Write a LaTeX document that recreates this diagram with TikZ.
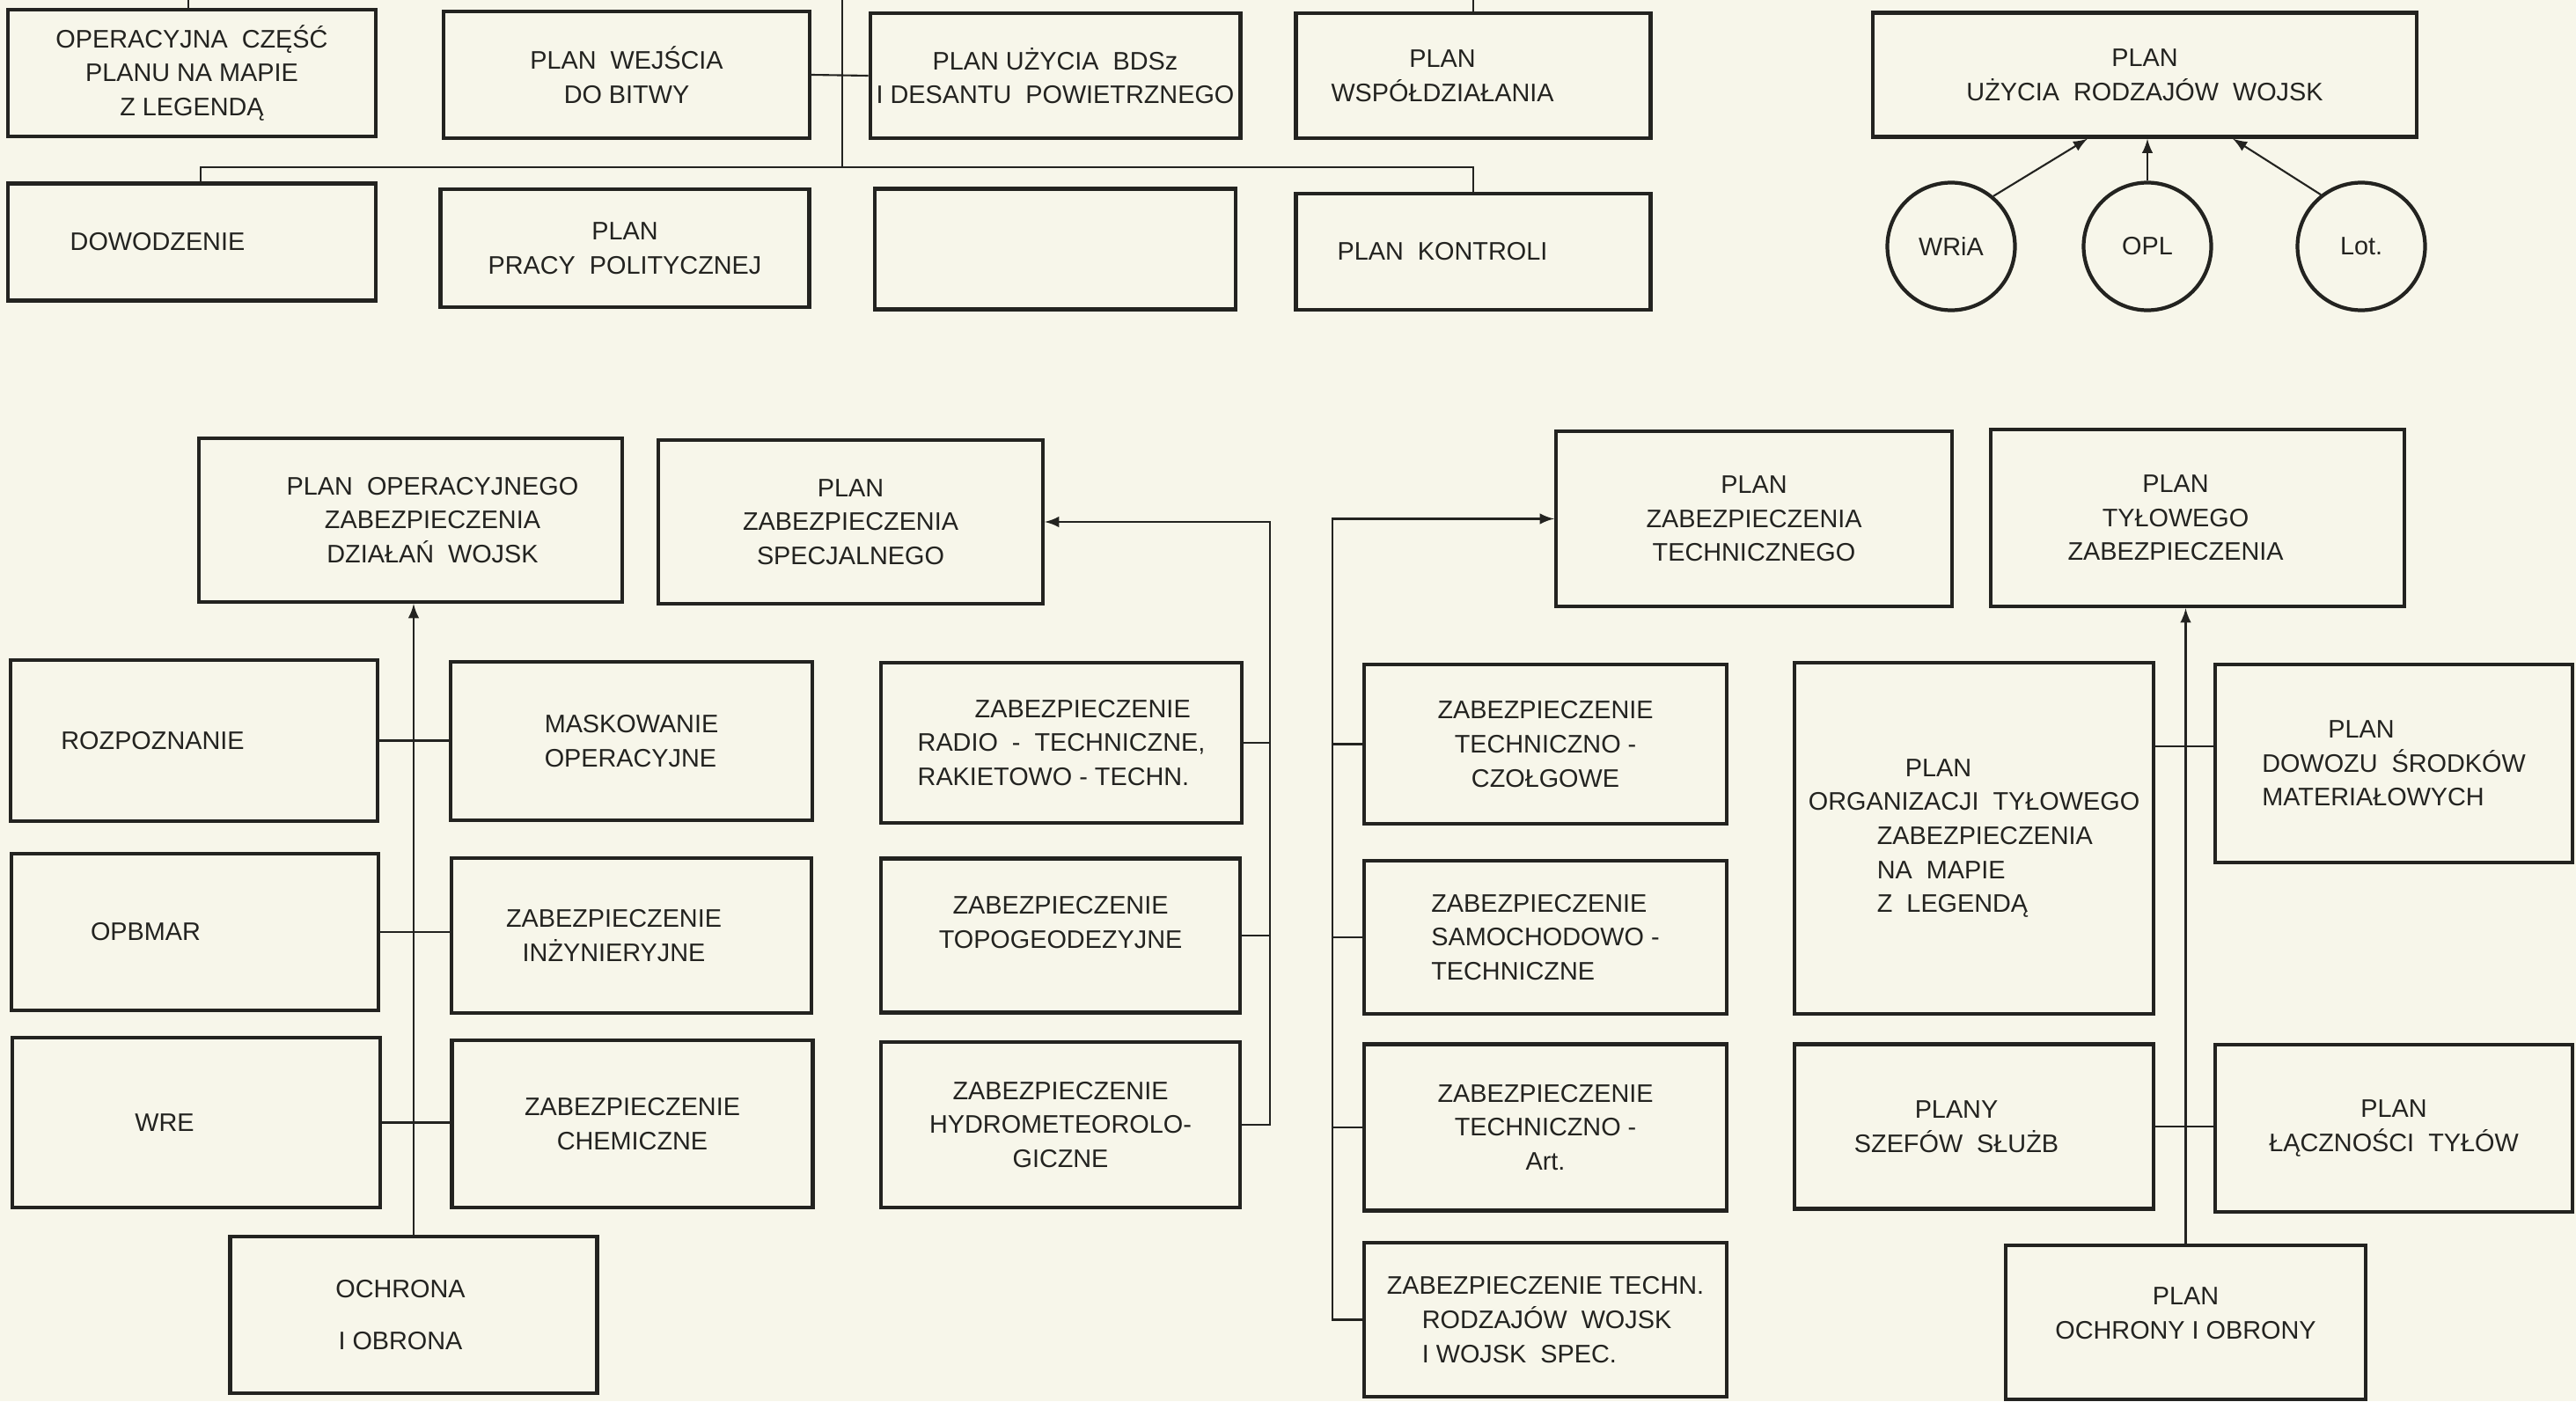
\documentclass[tikz,border=0pt]{standalone}
\usepackage{fontspec}
\setmainfont{Liberation Sans}
\usepackage{tikz}
\usetikzlibrary{arrows}

\definecolor{paper}{RGB}{247,246,234}
\definecolor{ink}{RGB}{35,35,32}

\tikzset{
  box/.style={draw=ink, line width=1.2pt, align=center, text=ink, inner sep=2pt},
  wh/.style 2 args={minimum width=#1cm, minimum height=#2cm},
  kolo/.style={circle, draw=ink, line width=1.2pt, text=ink, minimum size=1.45cm, inner sep=0pt},
  conn/.style={color=ink, line width=0.6pt},
  arr/.style={conn, -latex},
  every label/.style={align=center, text=ink}
}

\begin{document}
\begin{tikzpicture}[font=\fontsize{8.2}{11}\selectfont]
  \useasboundingbox (0,0) rectangle (29.27,15.92);
  \fill[paper] (0,0) rectangle (29.27,15.92);

  \node[box, wh={4.18}{1.44}] (opcz) at (2.18,15.09) {OPERACYJNA~ CZĘŚĆ\\PLANU NA MAPIE\\Z LEGENDĄ};
  \node[box, wh={4.16}{1.44}] (wejs) at (7.12,15.07) {PLAN~ WEJŚCIA\\DO BITWY};
  \node[box, wh={4.10}{1.42}] (bdsz) at (11.99,15.06) {PLAN UŻYCIA~ BDSz\\I DESANTU~ POWIETRZNEGO};
  \node[box, wh={4.03}{1.42}, label={[xshift=-0.35cm]center:PLAN\\WSPÓŁDZIAŁANIA}] (wspol) at (16.74,15.06) {};
  \node[box, wh={4.18}{1.33}, label={[xshift=-0.39cm]center:DOWODZENIE}] (dowodz) at (2.18,13.17) {};
  \node[box, wh={4.19}{1.34}] (polit) at (7.10,13.10) {PLAN\\PRACY~ POLITYCZNEJ};
  \node[box, wh={4.10}{1.37}] (pusty) at (11.99,13.09) {};
  \node[box, wh={4.03}{1.32}, label={[xshift=-0.35cm]center:PLAN~ KONTROLI}] (kontr) at (16.74,13.06) {};

  \node[box, wh={6.18}{1.41}] (rodz) at (24.37,15.07) {PLAN\\UŻYCIA~ RODZAJÓW~ WOJSK};
  \node[kolo] (wria) at (22.17,13.12) {WRiA};
  \node[kolo] (opl) at (24.40,13.12) {OPL};
  \node[kolo] (lot) at (26.83,13.12) {Lot.};

  \node[box, wh={4.81}{1.86}, label={[xshift=0.25cm]center:PLAN~ OPERACYJNEGO\\ZABEZPIECZENIA\\DZIAŁAŃ~ WOJSK}] (opzab) at (4.665,10.01) {};
  \node[box, wh={4.37}{1.86}] (spec) at (9.665,9.99) {PLAN\\ZABEZPIECZENIA\\SPECJALNEGO};
  \node[box, wh={4.17}{1.83}, label={[xshift=-0.47cm]center:ROZPOZNANIE}] (rozp) at (2.205,7.505) {};
  \node[box, wh={4.11}{1.80}, align=left] (mask) at (7.175,7.50) {MASKOWANIE\\OPERACYJNE};
  \node[box, wh={4.17}{1.78}, label={[xshift=-0.56cm]center:OPBMAR}] (opbmar) at (2.215,5.33) {};
  \node[box, wh={4.09}{1.76}, label={[xshift=-0.2cm]center:ZABEZPIECZENIE\\INŻYNIERYJNE}] (inz) at (7.175,5.29) {};
  \node[box, wh={4.18}{1.93}, label={[xshift=-0.36cm]center:WRE}] (wre) at (2.23,3.165) {};
  \node[box, wh={4.10}{1.90}] (chem) at (7.185,3.15) {ZABEZPIECZENIE\\CHEMICZNE};
  \node[box, wh={4.17}{1.78}, label={[xshift=-0.15cm]center:OCHRONA\\[0.2cm]I OBRONA}] (ochr) at (4.70,0.98) {};

  \node[box, wh={4.10}{1.82}, align=left] (radio) at (12.06,7.48) {\hspace*{0.65cm}ZABEZPIECZENIE\\RADIO~ -~ TECHNICZNE,\\RAKIETOWO - TECHN.};
  \node[box, wh={4.08}{1.75}, label={[yshift=0.15cm]center:ZABEZPIECZENIE\\TOPOGEODEZYJNE}] (topo) at (12.05,5.29) {};
  \node[box, wh={4.08}{1.88}] (hydro) at (12.05,3.14) {ZABEZPIECZENIE\\HYDROMETEOROLO-\\GICZNE};

  \node[box, wh={4.50}{1.99}] (tech) at (19.93,10.025) {PLAN\\ZABEZPIECZENIA\\TECHNICZNEGO};
  \node[box, wh={4.12}{1.81}] (czolg) at (17.56,7.465) {ZABEZPIECZENIE\\TECHNICZNO -\\CZOŁGOWE};
  \node[box, wh={4.12}{1.74}, align=left] (samoch) at (17.56,5.27) {ZABEZPIECZENIE\\SAMOCHODOWO -\\TECHNICZNE};
  \node[box, wh={4.12}{1.89}] (art) at (17.56,3.11) {ZABEZPIECZENIE\\TECHNICZNO -\\Art.};
  \node[box, wh={4.12}{1.75}, align=left] (rodzspec) at (17.56,0.925) {ZABEZPIECZENIE TECHN.\\\hspace*{0.4cm}RODZAJÓW~ WOJSK\\\hspace*{0.4cm}I WOJSK~ SPEC.};

  \node[box, wh={4.70}{2.01}, label={[xshift=-0.25cm]center:PLAN\\TYŁOWEGO\\ZABEZPIECZENIA}] (tyl) at (24.97,10.035) {};
  \node[box, wh={4.08}{3.99}, align=left] (organ) at (22.43,6.395) {\hspace*{1.1cm}PLAN\\ORGANIZACJI~ TYŁOWEGO\\\hspace*{0.78cm}ZABEZPIECZENIA\\\hspace*{0.78cm}NA~ MAPIE\\\hspace*{0.78cm}Z~ LEGENDĄ};
  \node[box, wh={4.06}{2.25}, align=left] (dowoz) at (27.20,7.245) {\hspace*{0.75cm}PLAN\\DOWOZU~ ŚRODKÓW\\MATERIAŁOWYCH};
  \node[box, wh={4.08}{1.87}, label={[xshift=-0.2cm]center:PLANY\\SZEFÓW~ SŁUŻB}] (szef) at (22.43,3.12) {};
  \node[box, wh={4.06}{1.90}] (lacz) at (27.20,3.10) {PLAN\\ŁĄCZNOŚCI~ TYŁÓW};
  \node[box, wh={4.09}{1.75}, label={[yshift=0.1cm]center:PLAN\\OCHRONY I OBRONY}] (ochrt) at (24.835,0.895) {};

  \coordinate (t1) at (2.14,15.92);
  \coordinate (t2) at (9.57,15.92);
  \coordinate (bus) at (9.57,14.02);
  \coordinate (ms) at (14.43,3.14);
  \coordinate (mt) at (15.14,0.925);
  \coordinate (ra) at (24.83,7.44);

  \draw[conn] (t1) -- (t1 |- opcz.north);
  \draw[conn] (t2) -- (bus);
  \draw[conn] (wspol.north) -- (wspol.north |- t1);
  \draw[conn] (wejs.east) -- (bdsz.west);
  \draw[conn] ([xshift=0.1cm]dowodz.north) |- (bus) -| (kontr.north);

  \path[arr]
  (wria.50) edge ([xshift=-0.65cm]rodz.south)
  (opl) edge (opl |- rodz.south)
  (lot.128) edge ([xshift=1cm]rodz.south)
  ;

  \draw[arr] (ochr.north) -- (ochr.north |- opzab.south);
  \path[conn]
  (rozp.east) edge (rozp.east -| mask.west)
  (opbmar.east) edge (opbmar.east -| inz.west)
  (wre.east) edge (wre.east -| chem.west)
  ;

  \draw[arr] (hydro.east) -- (ms) |- (spec.east);
  \path[conn]
  (radio.east) edge (radio.east -| ms)
  (topo.east) edge (topo.east -| ms)
  ;

  \draw[arr] (rodzspec.west) -- (mt) |- (tech.west);
  \path[conn]
  (czolg.west) edge (czolg.west -| mt)
  (samoch.west) edge (samoch.west -| mt)
  (art.west) edge (art.west -| mt)
  ;

  \draw[arr] (ochrt.north) -- (ochrt.north |- tyl.south);
  \path[conn]
  (ra -| organ.east) edge (ra -| dowoz.west)
  (szef.east) edge (szef.east -| lacz.west)
  ;
\end{tikzpicture}
\end{document}
